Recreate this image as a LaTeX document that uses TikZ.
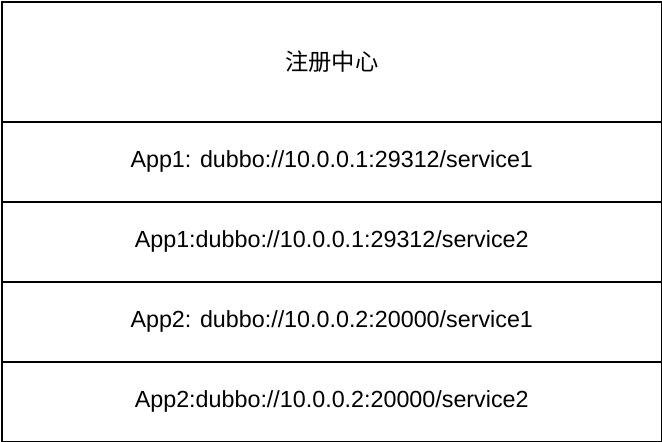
\documentclass[tikz,border=0pt]{standalone}
\usepackage{fontspec}
\setmainfont{Liberation Sans}
\newfontfamily\cjk{Noto Sans CJK SC}
\begin{document}
\begin{tikzpicture}[x=1pt,y=-1pt,
  cell/.style={draw=black,line width=1.5pt,minimum width=660pt,inner sep=0pt,font=\fontsize{23.3}{27}\selectfont,anchor=north west}]
\useasboundingbox (0,0) rectangle (662,442);
\node[cell,minimum height=120pt] (head) at (1,1) {\cjk 注册中心};
\node[cell,minimum height=80pt] (r1) at (1,121) {\raisebox{-2pt}{App1: dubbo://10.0.0.1:29312/service1}};
\node[cell,minimum height=80pt] (r2) at (1,201) {\raisebox{-2pt}{App1:dubbo://10.0.0.1:29312/service2}};
\node[cell,minimum height=80pt] (r3) at (1,281) {\raisebox{-2pt}{App2: dubbo://10.0.0.2:20000/service1}};
\node[cell,minimum height=80pt] (r4) at (1,361) {\raisebox{-2pt}{App2:dubbo://10.0.0.2:20000/service2}};
\end{tikzpicture}
\end{document}
